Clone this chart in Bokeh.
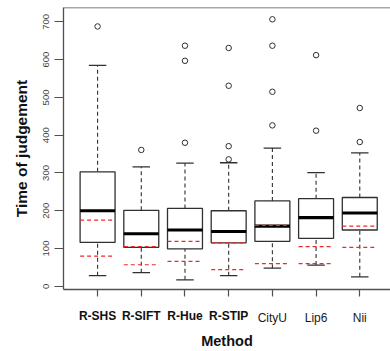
from bokeh.plotting import figure
from bokeh.models import FixedTicker, Range1d, ColumnDataSource, LinearAxis, Span
from bokeh.embed import file_html
from bokeh.resources import INLINE

# ---- data ----
methods = ["R-SHS", "R-SIFT", "R-Hue", "R-STIP", "CityU", "Lip6", "Nii"]
positions = [1, 2, 3, 4, 5, 6, 7]
q1 = [116, 103, 99, 115, 119, 127, 149]
median = [200, 139, 149, 145, 159, 182, 194]
q3 = [303, 201, 206, 200, 226, 232, 235]
whisker_low = [28, 36, 17, 28, 48, 56, 25]
whisker_high = [585, 316, 326, 327, 366, 301, 353]
outliers = [
    [688],
    [361],
    [637, 597, 380],
    [631, 531, 371, 336],
    [707, 637, 515, 426],
    [612, 412],
    [472, 382],
]
red_high = [175, 105, 119, 115, 161, 105, 159]
red_low = [80, 57, 66, 44, 60, 60, 103]
y_ticks = [0, 100, 200, 300, 400, 500, 600, 700]
bold_count = 4  # first four method labels are bold

# ---- figure ----
p = figure(width=390, height=351, output_backend="svg", toolbar_location=None,
           x_range=Range1d(0.22, 7.703), y_range=Range1d(-8.6, 738.2),
           min_border_left=63, min_border_right=0, min_border_top=7,
           min_border_bottom=57)
p.outline_line_color = None
p.grid.grid_line_color = None
p.background_fill_color = "white"
p.border_fill_color = "white"

box_w = 0.8
cap_w = 0.4
src = ColumnDataSource(dict(
    x=positions, q1=q1, med=median, q3=q3, lo=whisker_low, hi=whisker_high,
    rh=red_high, rl=red_low,
    left=[x - box_w / 2 for x in positions], right=[x + box_w / 2 for x in positions],
    cl=[x - cap_w / 2 for x in positions], cr=[x + cap_w / 2 for x in positions],
))

dark = "#303030"
# whiskers
p.segment(x0="x", y0="q3", x1="x", y1="hi", source=src, line_color=dark,
          line_width=1.1, line_dash="4 3")
p.segment(x0="x", y0="lo", x1="x", y1="q1", source=src, line_color=dark,
          line_width=1.1, line_dash="4 3")
# caps
p.segment(x0="cl", y0="hi", x1="cr", y1="hi", source=src, line_color=dark, line_width=1.3)
p.segment(x0="cl", y0="lo", x1="cr", y1="lo", source=src, line_color=dark, line_width=1.3)
# boxes
p.quad(left="left", right="right", bottom="q1", top="q3", source=src,
       fill_color="white", line_color=dark, line_width=1.3)
# medians
p.segment(x0="left", y0="med", x1="right", y1="med", source=src,
          line_color="black", line_width=3.2)
# outliers
ox, oy = [], []
for x, vals in zip(positions, outliers):
    for v in vals:
        ox.append(x)
        oy.append(v)
p.scatter(ox, oy, marker="circle", size=5.5, fill_color=None,
          line_color=dark, line_width=1)
# red dashed reference lines
p.segment(x0="left", y0="rh", x1="right", y1="rh", source=src,
          line_color="#f02828", line_width=1.2, line_dash="4 3")
p.segment(x0="left", y0="rl", x1="right", y1="rl", source=src,
          line_color="#f02828", line_width=1.2, line_dash="4 3")

# top frame line
p.add_layout(Span(location=738.2, dimension="width", line_color="#505050", line_width=1.3))

# ---- axes ----
axis_col = "#505050"
LABEL_H = 15  # height Bokeh gives a 12px tick label box

# axis A: ticks, axis line and the bold labels
xa = p.xaxis[0]
xa.ticker = FixedTicker(ticks=positions)
xa.major_label_overrides = {pos: (name if i < bold_count else "")
                            for i, (pos, name) in enumerate(zip(positions, methods))}
xa.major_label_text_font = "Liberation Sans"
xa.major_label_text_font_style = "bold"
xa.major_label_text_font_size = "12px"
xa.major_label_text_color = "#111111"
xa.major_label_standoff = 12
xa.major_tick_out = 7
xa.major_tick_in = 0
xa.minor_tick_line_color = None
xa.axis_line_color = axis_col
xa.axis_line_width = 1.3
xa.major_tick_line_color = axis_col
xa.major_tick_line_width = 1.2

# axis B: normal-weight labels (pulled up onto the same row) and the axis title
xb = LinearAxis(ticker=FixedTicker(ticks=positions))
xb.major_label_overrides = {pos: ("" if i < bold_count else name)
                            for i, (pos, name) in enumerate(zip(positions, methods))}
xb.major_label_text_font = "Liberation Sans"
xb.major_label_text_font_style = "normal"
xb.major_label_text_font_size = "12px"
xb.major_label_text_color = "#1a1a1a"
xb.major_label_standoff = -LABEL_H
xb.major_tick_out = 0
xb.major_tick_in = 0
xb.major_tick_line_color = None
xb.minor_tick_line_color = None
xb.axis_line_color = None
xb.axis_label = "Method"
xb.axis_label_text_font = "Liberation Sans"
xb.axis_label_text_font_style = "bold"
xb.axis_label_text_font_size = "14.5px"
xb.axis_label_text_color = "#111111"
xb.axis_label_standoff = 5
p.add_layout(xb, "below")

ya = p.yaxis[0]
ya.ticker = FixedTicker(ticks=y_ticks)
ya.major_label_orientation = "vertical"
ya.major_label_text_font = "Liberation Sans"
ya.major_label_text_font_size = "9.5px"
ya.major_label_text_color = "#444444"
ya.major_label_standoff = 5
ya.major_tick_out = 9
ya.major_tick_in = 0
ya.minor_tick_line_color = None
ya.axis_line_color = axis_col
ya.axis_line_width = 1.3
ya.major_tick_line_color = axis_col
ya.major_tick_line_width = 1.2
ya.axis_label = "Time of judgement"
ya.axis_label_text_font = "Liberation Sans"
ya.axis_label_text_font_style = "bold"
ya.axis_label_text_font_size = "15.5px"
ya.axis_label_text_color = "#111111"
ya.axis_label_standoff = 11

open("out.html", "w").write(file_html(p, INLINE))
